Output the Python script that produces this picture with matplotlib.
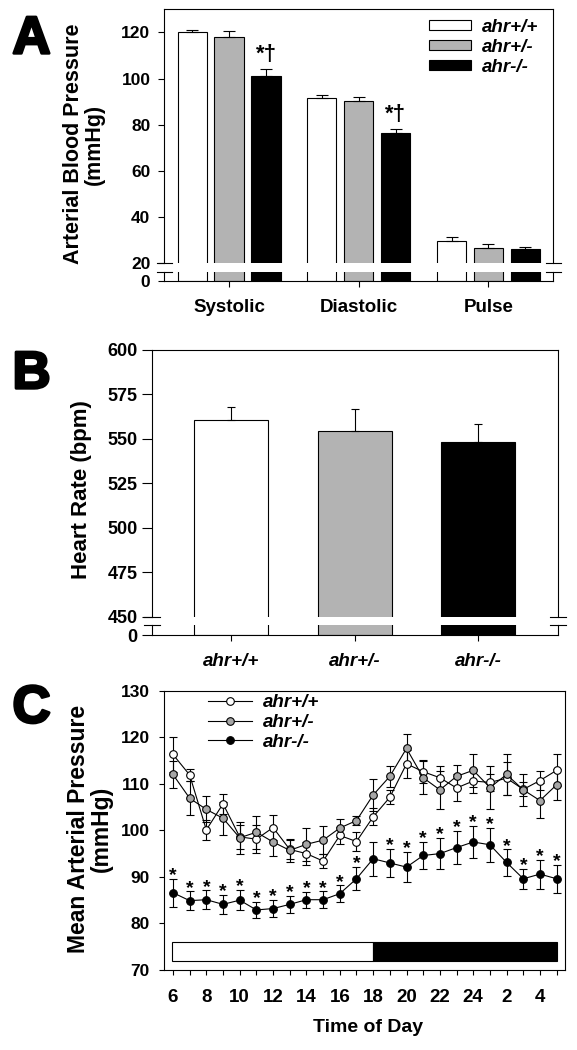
import matplotlib
matplotlib.use('Agg')
import matplotlib.pyplot as plt
import matplotlib.patheffects as pe
from matplotlib.patches import Patch, Rectangle
from matplotlib.lines import Line2D
import numpy as np

plt.rcParams['font.family'] = ['Liberation Sans', 'DejaVu Sans']
plt.rcParams['font.weight'] = 'bold'

W, H = 577, 1050

genotypes = ['ahr+/+', 'ahr+/-', 'ahr-/-']
bar_colors = ['white', '#b3b3b3', 'black']

# panel A - arterial blood pressure
bp_measures = ['Systolic', 'Diastolic', 'Pulse']
bp_wt = [120.3, 91.5, 29.8]
bp_wt_err = [0.7, 1.4, 1.4]
bp_het = [118.2, 90.5, 26.5]
bp_het_err = [2.2, 1.7, 1.8]
bp_ko = [101.3, 76.3, 26.2]
bp_ko_err = [2.9, 1.8, 1.0]

# panel B - heart rate
hr_mean = [560.5, 554.2, 548.2]
hr_err = [7.2, 12.5, 10.0]

# panel C - 24 h mean arterial pressure
hours = [6, 7, 8, 9, 10, 11, 12, 13, 14, 15, 16, 17, 18, 19, 20, 21, 22, 23, 24, 1, 2, 3, 4, 5]
map_wt = [116.3, 111.9, 100.1, 105.7, 98.6, 98.1, 100.6, 95.9, 95.0, 93.4, 98.9, 97.6,
          102.9, 107.1, 114.3, 112.6, 111.3, 109.1, 110.6, 110.3, 111.2, 108.8, 110.7, 112.9]
map_wt_err = [3.7, 1.3, 2.2, 2.2, 2.5, 3.0, 2.7, 2.0, 2.5, 1.5, 1.8, 2.0,
              1.8, 1.5, 3.0, 2.5, 2.5, 2.9, 2.5, 1.8, 3.5, 1.5, 2.0, 3.4]
map_het = [112.0, 106.9, 104.5, 102.6, 98.4, 99.6, 97.5, 95.7, 97.0, 97.9, 100.5, 102.1,
           107.6, 111.6, 117.6, 111.3, 108.7, 111.6, 112.9, 109.2, 112.0, 108.7, 106.4, 109.8]
map_het_err = [3.0, 3.6, 2.8, 3.5, 3.5, 3.5, 3.0, 2.5, 3.5, 3.0, 2.0, 1.0,
               3.5, 2.2, 3.2, 3.5, 4.1, 2.5, 3.6, 4.6, 4.5, 3.4, 3.7, 3.3]
map_ko = [86.6, 84.9, 85.1, 84.1, 85.0, 82.9, 83.2, 84.1, 85.1, 85.1, 86.4, 89.6,
          93.9, 93.0, 92.1, 94.6, 95.0, 96.3, 97.5, 96.9, 93.1, 89.6, 90.6, 89.6]
map_ko_err = [3.0, 2.0, 2.0, 2.1, 2.2, 1.8, 1.8, 1.9, 1.7, 1.8, 1.8, 2.5,
              3.6, 3.0, 3.3, 3.0, 3.4, 3.6, 3.5, 3.6, 2.8, 2.2, 3.1, 3.0]
map_sig = [0, 1, 2, 3, 4, 5, 6, 7, 8, 9, 10, 11, 13, 14, 15, 16, 17, 18, 19, 20, 21, 22, 23]
light_hours = (0, 12)
dark_hours = (12, 23)


def px_rect(left, top, right, bottom):
    return [left / W, 1 - bottom / H, (right - left) / W, (bottom - top) / H]


def style_ticks(ax, size, length=4, pad=6):
    ax.tick_params(direction='out', length=length, width=0.8, labelsize=size, pad=pad)


def break_marks(ax, y, dx):
    for x0 in (0, 1):
        ax.plot([x0 - dx, x0 + dx], [y, y], transform=ax.transAxes, color='black',
                lw=0.8, clip_on=False)


fig = plt.figure(figsize=(W / 100, H / 100), dpi=100)

# ---------------- A ----------------
axA = fig.add_axes(px_rect(164.3, 9.3, 553.3, 263.3))
axA0 = fig.add_axes(px_rect(164.3, 271.7, 553.3, 281))
x = np.arange(len(bp_measures))
offs = [-0.285, 0, 0.285]
seriesA = [(bp_wt, bp_wt_err), (bp_het, bp_het_err), (bp_ko, bp_ko_err)]
for j, (vals, errs) in enumerate(seriesA):
    for ax in (axA, axA0):
        ax.bar(x + offs[j], vals, 0.226, color=bar_colors[j], edgecolor='black', lw=0.8)
    axA.errorbar(x + offs[j], vals, yerr=[np.zeros(3), errs], fmt='none', ecolor='black',
                 elinewidth=0.8, capsize=4, capthick=0.8)
for k in (0, 1):
    axA.annotate('*†', (x[k] + offs[2], bp_ko[k] + bp_ko_err[k]), xytext=(0, 3),
                 textcoords='offset points', ha='center', va='bottom', fontsize=16)
axA.set_xlim(-0.5, 2.5)
axA0.set_xlim(-0.5, 2.5)
axA.set_ylim(20, 130)
axA0.set_ylim(0, 4)
axA.set_yticks([20, 40, 60, 80, 100, 120])
axA0.set_yticks([0])
axA.spines['bottom'].set_visible(False)
axA0.spines['top'].set_visible(False)
style_ticks(axA, 12.5, pad=6)
style_ticks(axA0, 12.5, pad=6)
axA.tick_params(bottom=False, labelbottom=False)
axA0.set_xticks(x)
axA0.set_xticklabels(bp_measures)
axA0.tick_params(axis='x', labelsize=13.5, pad=9)
break_marks(axA, 0, 0.02)
break_marks(axA0, 1, 0.02)
handles = [Patch(facecolor=c, edgecolor='black', lw=0.8) for c in bar_colors]
axA.legend(handles, genotypes, loc='upper left', bbox_to_anchor=(0.681, 0.962),
           frameon=False, prop=dict(style='italic', weight='bold', size=13.5),
           handlelength=2.25, handleheight=0.45, handletextpad=0.55,
           labelspacing=0.15, borderpad=0, borderaxespad=0)

# ---------------- B ----------------
axB = fig.add_axes(px_rect(151.7, 350, 558, 616.7))
axB0 = fig.add_axes(px_rect(151.7, 625, 558, 635))
xb = np.arange(len(genotypes))
for ax in (axB, axB0):
    ax.bar(xb, hr_mean, 0.6, color=bar_colors, edgecolor='black', lw=0.8)
    ax.set_xlim(-0.641, 2.645)
axB.errorbar(xb, hr_mean, yerr=[np.zeros(3), hr_err], fmt='none', ecolor='black',
             elinewidth=0.8, capsize=3, capthick=0.8)
axB.set_ylim(450, 600)
axB0.set_ylim(0, 5.6)
axB.set_yticks([450, 475, 500, 525, 550, 575, 600])
axB0.set_yticks([0])
axB.spines['bottom'].set_visible(False)
axB0.spines['top'].set_visible(False)
style_ticks(axB, 13, length=7, pad=3)
style_ticks(axB0, 13, length=7, pad=3)
axB.tick_params(bottom=False, labelbottom=False)
axB0.set_xticks(xb)
axB0.set_xticklabels(genotypes, style='italic')
axB0.tick_params(axis='x', length=4, labelsize=13.5, pad=9)
break_marks(axB, 0, 0.02)
break_marks(axB0, 1, 0.02)

# ---------------- C ----------------
axC = fig.add_axes(px_rect(164.3, 690.7, 565, 970))
xc = np.arange(len(hours))
marker_colors = ['white', '#a6a6a6', 'black']
seriesC = [(map_wt, map_wt_err), (map_het, map_het_err), (map_ko, map_ko_err)]
for (vals, errs), mc in zip(seriesC, marker_colors):
    axC.errorbar(xc, vals, yerr=errs, fmt='-o', color='black', mfc=mc, mec='black',
                 ms=5.5, mew=0.8, lw=0.8, elinewidth=0.8, capsize=3, capthick=0.8)
for i in map_sig:
    axC.annotate('*', (xc[i], map_ko[i] + map_ko_err[i]), xytext=(0, -1),
                 textcoords='offset points', ha='center', va='baseline', fontsize=14)
axC.add_patch(Rectangle((light_hours[0] - 0.05, 72), light_hours[1] - light_hours[0] + 0.05, 4,
                        facecolor='white', edgecolor='black', lw=0.8))
axC.add_patch(Rectangle((dark_hours[0], 72), dark_hours[1] - dark_hours[0] + 0.05, 4,
                        facecolor='black', edgecolor='black', lw=0.8))
axC.set_xlim(-0.52, 23.5)
axC.set_ylim(70, 130)
axC.set_yticks(range(70, 131, 10))
axC.set_xticks(xc)
axC.set_xticklabels([str(h) if i % 2 == 0 else '' for i, h in enumerate(hours)])
style_ticks(axC, 12.5, length=3.5, pad=7)
axC.tick_params(axis='x', labelsize=13.5, pad=10)
legC = [Line2D([], [], color='black', lw=0.8, marker='o', mfc=mc, mec='black', ms=5.5, mew=0.8)
        for mc in marker_colors]
axC.legend(legC, genotypes, loc='upper left', bbox_to_anchor=(0.108, 0.988), frameon=False,
           prop=dict(style='italic', weight='bold', size=13.5), handlelength=2.35,
           handletextpad=0.6, labelspacing=0.15, borderpad=0, borderaxespad=0)

for ax in (axA, axA0, axB, axB0, axC):
    for s in ax.spines.values():
        s.set_linewidth(0.8)

# labels
for letter, yb in (('A', 53.3), ('B', 388.3), ('C', 722.5)):
    fig.text(31.5 / W, 1 - yb / H, letter, fontsize=38, ha='center', va='baseline',
             path_effects=[pe.withStroke(linewidth=2, foreground='black')])
fig.text(84 / W, 1 - 144 / H, 'Arterial Blood Pressure\n(mmHg)', rotation=90, ha='center',
         va='center', fontsize=15.5, linespacing=0.95, multialignment='center')
fig.text(81 / W, 1 - 490 / H, 'Heart Rate (bpm)', rotation=90, ha='center', va='center',
         fontsize=16)
fig.text(90 / W, 1 - 829 / H, 'Mean Arterial Pressure\n(mmHg)', rotation=90, ha='center',
         va='center', fontsize=16.5, linespacing=0.95, multialignment='center')
fig.text(368 / W, 1 - 1028 / H, 'Time of Day', ha='center', va='center', fontsize=14)

fig.savefig('out.png', dpi=100)
